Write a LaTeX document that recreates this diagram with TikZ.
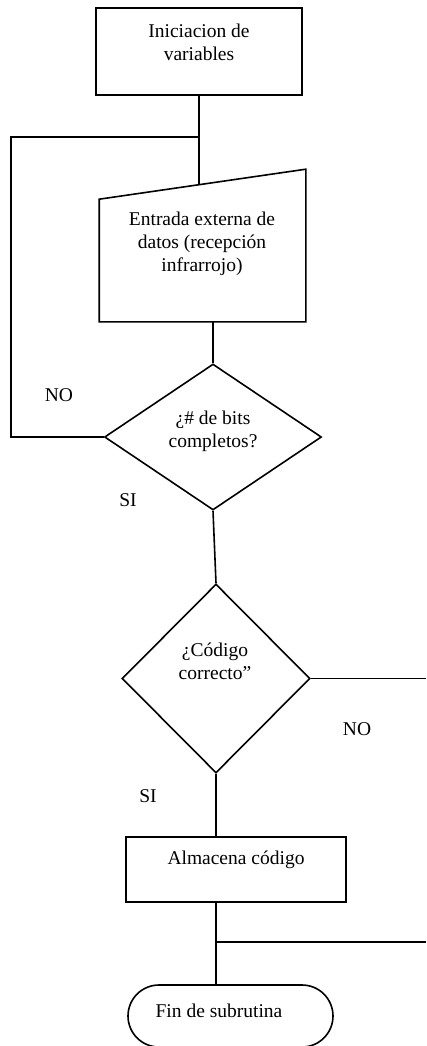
\documentclass[tikz,border=0pt]{standalone}
\usepackage{fontspec}
\setmainfont{Liberation Serif}
\usetikzlibrary{shapes.geometric,shapes.misc,calc}

\begin{document}
\begin{tikzpicture}[x=1pt,y=-1pt,line width=1.6pt,
  shapebox/.style={draw, rectangle, inner sep=0pt},
  decision/.style={draw, diamond, inner sep=0pt},
  terminal/.style={draw, rounded rectangle, inner sep=0pt},
  txt/.style={font=\fontsize{19.5}{23}\selectfont, align=center, inner sep=0pt},
]
\useasboundingbox (0,0) rectangle (426,1046);
\clip (0,0) rectangle (426,1046);

% helper coordinates for the page edge and junction levels
\coordinate (r1) at (426,0);
\coordinate (lp) at (11,437);
\coordinate (y137) at (0,137);
\coordinate (y942) at (0,942);

% start box
\node[shapebox, minimum width=206pt, minimum height=87pt] (init) at (199,51.5) {};
\node[txt] (initT) at (199,42) {Iniciacion de\\variables};

% manual input (slanted top)
\node[rectangle, inner sep=0pt, minimum width=205pt, minimum height=151pt] (entrada) at (202.5,245.5) {};
\draw (entrada.south west) -- ($(entrada.north west)+(0,30)$) -- (entrada.north east) -- (entrada.south east) -- cycle;
\coordinate (eTop) at ($($(entrada.north west)+(0,30)$)!0.5!(entrada.north east)$);
\node[txt] (entradaT) at (202,243.5) {Entrada externa de\\datos (recepción\\infrarrojo)};

% first decision
\node[decision, minimum width=217pt, minimum height=146pt] (d1) at (213,437) {};
\node[txt] (d1T) at (213,431) {¿\# de bits\\completos?};

% second decision
\node[decision, minimum width=188pt, minimum height=189pt] (d2) at (216,678.5) {};
\node[txt] (d2T) at (215,661) {¿Código\\correcto”};

% store box
\node[shapebox, minimum width=220pt, minimum height=65pt] (alm) at (236,869.5) {};
\node[txt] (almT) at (236,859.5) {Almacena código};

% end terminal
\node[terminal, minimum width=205pt, minimum height=62pt] (fin) at (230.5,1016) {};
\node[txt] (finT) at (219,1010.5) {Fin de subrutina};

% branch labels
\node[txt] (no1) at (59,395) {NO};
\node[txt] (si1) at (128,500) {SI};
\node[txt] (no2) at (357,729) {NO};
\node[txt] (si2) at (148,796) {SI};

% connectors
\coordinate (j1) at (init.south |- y137);
\draw (init.south) -- (init.south |- eTop);
\draw (d1.west) -- (d1.west -| lp) -- (lp |- j1) -- (j1);
\draw (d1.north |- entrada.south) -- (d1.north);
\draw (d1.south) -- (d2.north);
\draw (d2.east) -- (d2.east -| r1);
\draw (d2.south) -- (d2.south |- alm.north);
\draw (d2.south |- alm.south) -- (d2.south |- fin.north);
\coordinate (j2) at (d2.south |- y942);
\draw (j2) -- (j2 -| r1);
\end{tikzpicture}
\end{document}
